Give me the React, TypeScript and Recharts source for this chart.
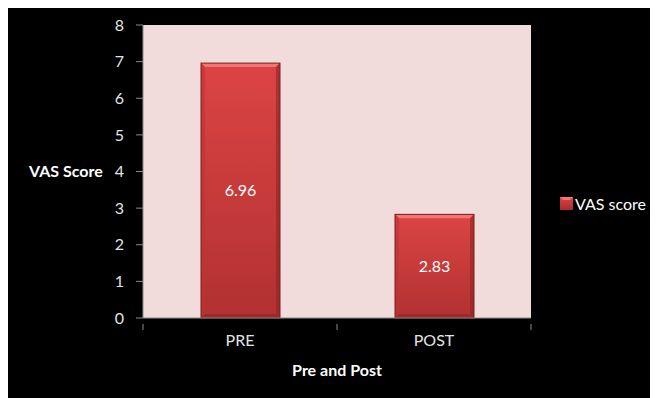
import React from "react";
import {
  BarChart,
  Bar,
  XAxis,
  YAxis,
  CartesianGrid,
  Legend,
  LabelList,
} from "recharts";

const phases = ["PRE", "POST"];
const vasScores = [6.96, 2.83];
const yTicks = [0, 1, 2, 3, 4, 5, 6, 7, 8];

const data = phases.map((phase, i) => ({ phase, score: vasScores[i] }));

const AXIS_GREY = "#8c8c8c";
const TICK_TEXT = "#e4e4e4";

// Bar with a bevelled edge, like an office-style 3D column
const BevelBar = (props: any) => {
  const { x, y, width, height } = props;
  if (!height || height <= 0) return null;
  const b = Math.min(4, height / 2);
  return (
    <g>
      <rect x={x} y={y} width={width} height={height} fill="url(#barFill)" />
      <polygon
        points={`${x},${y} ${x + width},${y} ${x + width - b},${y + b} ${x + b},${y + b}`}
        fill="#f27575"
      />
      <polygon
        points={`${x},${y} ${x + b},${y + b} ${x + b},${y + height - b} ${x},${y + height}`}
        fill="#b93636"
        opacity={0.6}
      />
      <polygon
        points={`${x + width},${y} ${x + width - b},${y + b} ${x + width - b},${y + height - b} ${x + width},${y + height}`}
        fill="#8e2424"
        opacity={0.6}
      />
      <polygon
        points={`${x},${y + height} ${x + b},${y + height - b} ${x + width - b},${y + height - b} ${x + width},${y + height}`}
        fill="#8a2222"
        opacity={0.5}
      />
      <rect x={x} y={y} width={width} height={height} fill="none" stroke="#7a1e1e" strokeWidth={1} />
    </g>
  );
};

// Category ticks sit on the band boundaries instead of the band centres
const CategoryTick = (props: any) => {
  const { x, y, payload, index, visibleTicksCount } = props;
  const half = payload && payload.offset ? payload.offset : 0;
  const isLast = index === (visibleTicksCount ?? phases.length) - 1;
  return (
    <g>
      <line x1={x - half} x2={x - half} y1={y - 11} y2={y - 5} stroke={AXIS_GREY} />
      {isLast && <line x1={x + half} x2={x + half} y1={y - 11} y2={y - 5} stroke={AXIS_GREY} />}
      <text x={x} y={y} dy="0.71em" textAnchor="middle" fill={TICK_TEXT} fontSize={16}>
        {payload.value}
      </text>
    </g>
  );
};

const LegendBox = () => (
  <div style={{ display: "flex", alignItems: "center", color: "#ffffff", fontSize: 16 }}>
    <svg width={13} height={13} style={{ marginRight: 2 }}>
      <rect x={0} y={0} width={13} height={13} fill="url(#legendFill)" />
      <polygon points="0,0 13,0 10,3 3,3" fill="#f27575" />
      <defs>
        <linearGradient id="legendFill" x1="0" y1="0" x2="0" y2="1">
          <stop offset="0%" stopColor="#dc4444" />
          <stop offset="100%" stopColor="#a82c2c" />
        </linearGradient>
      </defs>
    </svg>
    <span>VAS score</span>
  </div>
);

export default function App() {
  return (
    <div
      style={{
        width: 650,
        height: 390,
        background: "#000000",
        fontFamily: "Lato, 'Open Sans', sans-serif",
        position: "relative",
      }}
    >
      <BarChart
        width={650}
        height={390}
        data={data}
        margin={{ top: 17, right: 127, bottom: 0, left: 0 }}
      >
        <defs>
          <linearGradient id="barFill" x1="0" y1="0" x2="0" y2="1">
            <stop offset="0%" stopColor="#dc4444" />
            <stop offset="100%" stopColor="#b23131" />
          </linearGradient>
        </defs>
        <CartesianGrid horizontal={false} vertical={false} fill="#f2dcdb" stroke="none" />
        <XAxis
          dataKey="phase"
          height={80}
          stroke={AXIS_GREY}
          tickLine={false}
          tickSize={6}
          tickMargin={11}
          tick={<CategoryTick />}
          label={{
            value: "Pre and Post",
            position: "insideBottom",
            offset: 22,
            fill: "#ffffff",
            fontWeight: "bold",
            fontSize: 16,
          }}
        />
        <YAxis
          width={135}
          domain={[0, 8]}
          ticks={yTicks}
          interval={0}
          stroke={AXIS_GREY}
          tickSize={7}
          tickMargin={12}
          tick={{ fill: TICK_TEXT, fontSize: 16 }}
          label={{
            value: "VAS Score",
            position: "insideLeft",
            offset: 21,
            fill: "#ffffff",
            fontWeight: "bold",
            fontSize: 16,
          }}
        />
        <Legend
          layout="vertical"
          align="center"
          verticalAlign="middle"
          wrapperStyle={{ left: 552, top: 186, width: 98 }}
          content={<LegendBox />}
        />
        <Bar
          dataKey="score"
          name="VAS score"
          barSize={79}
          shape={<BevelBar />}
          isAnimationActive={false}
        >
          <LabelList dataKey="score" position="center" fill="#ffffff" fontSize={16} />
        </Bar>
      </BarChart>
    </div>
  );
}
